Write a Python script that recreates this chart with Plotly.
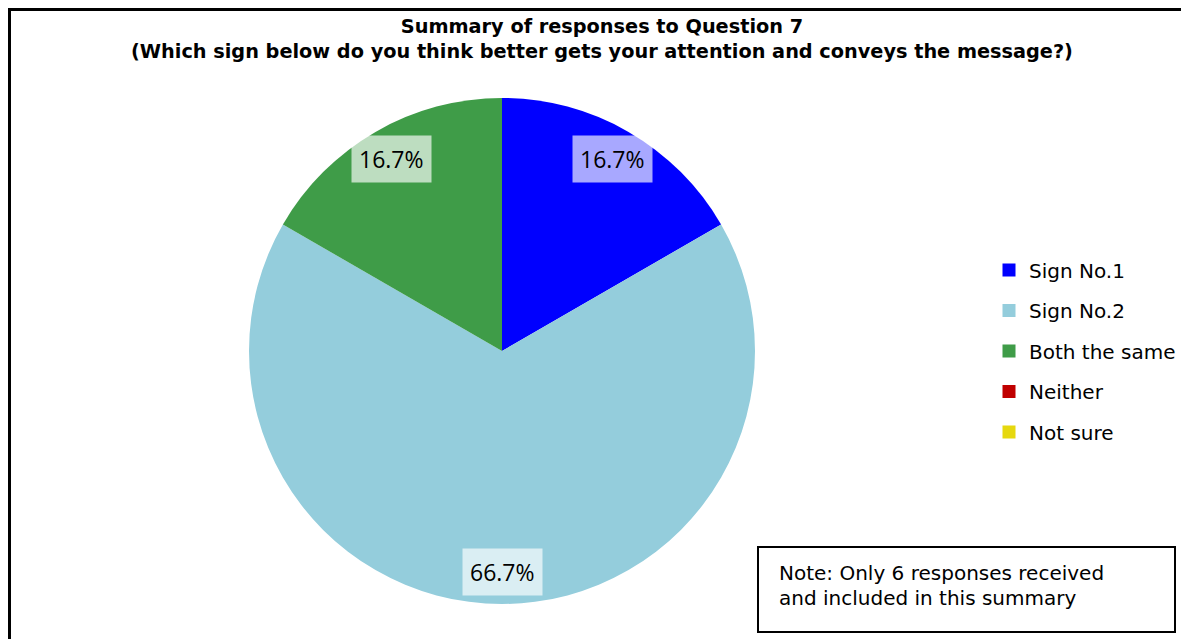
import math
import plotly.graph_objects as go

# ---- data ----
categories = ["Sign No.1", "Sign No.2", "Both the same", "Neither", "Not sure"]
responses = [1, 4, 1, 0, 0]
slice_colors = ["#0000FF", "#94CDDC", "#3F9C48", "#C00000", "#E6D80E"]
title_lines = ["Summary of responses to Question 7",
               "(Which sign below do you think better gets your attention and conveys the message?)"]
note_lines = ["Note: Only 6 responses received", "and included in this summary"]

W, H = 1189, 639
OFF = 8  # page body margin
cx, cy, R = 502 - OFF, 351 - OFF, 253


def px(x):
    return x / W


def py(y):
    return 1 - y / H


fig = go.Figure()

fig.add_trace(go.Pie(
    labels=categories,
    values=responses,
    marker=dict(colors=slice_colors, line=dict(width=0)),
    sort=False,
    direction="clockwise",
    rotation=0,
    textinfo="none",
    hoverinfo="label+percent",
    showlegend=False,
    domain=dict(x=[px(cx - R), px(cx + R)], y=[py(cy + R), py(cy - R)]),
))

# legend entries (one group each so spacing can be set)
for cat, col in zip(categories, slice_colors):
    fig.add_trace(go.Scatter(
        x=[None], y=[None], mode="markers", name=cat, legendgroup=cat,
        marker=dict(symbol="square", size=13, color=col), hoverinfo="skip",
    ))

# percentage labels with translucent boxes
total = sum(responses)
cum = 0
annotations = []
for v in responses:
    if v > 0:
        mid = math.radians((cum + v / 2) / total * 360)
        lx = cx + 0.875 * R * math.sin(mid)
        ly = cy - 0.875 * R * math.cos(mid)
        annotations.append(dict(
            x=px(lx), y=py(ly), xref="paper", yref="paper",
            xanchor="center", yanchor="middle",
            text=f"{v / total * 100:.1f}%", showarrow=False,
            font=dict(family="Open Sans, Liberation Sans, sans-serif", size=23, color="black"),
            bgcolor="rgba(255,255,255,0.66)", borderpad=7,
        ))
    cum += v

# title
annotations.append(dict(
    x=px(602 - OFF), y=py(31), xref="paper", yref="paper",
    xanchor="center", yanchor="middle",
    text="<b>" + "<br>".join(title_lines) + "</b>", showarrow=False,
    font=dict(family="DejaVu Sans, sans-serif", size=19.3, color="black"),
))

# note text
for i, line in enumerate(note_lines):
    annotations.append(dict(
        x=px(777 - OFF), y=py(573 + 25 * i - OFF), xref="paper", yref="paper",
        xanchor="left", yanchor="middle",
        text=line, showarrow=False, align="left",
        font=dict(family="DejaVu Sans, sans-serif", size=20, color="black"),
    ))

fig.update_layout(
    width=W, height=H,
    margin=dict(l=0, r=0, t=0, b=0),
    paper_bgcolor="white", plot_bgcolor="white",
    xaxis=dict(visible=False), yaxis=dict(visible=False),
    legend=dict(
        x=px(989 - OFF), y=py(351 - OFF), xanchor="left", yanchor="middle",
        font=dict(family="DejaVu Sans, sans-serif", size=20, color="black"),
        tracegroupgap=11.5, bgcolor="rgba(0,0,0,0)",
    ),
    annotations=annotations,
    shapes=[
        dict(type="rect", xref="paper", yref="paper",
             x0=px(1.5), x1=px(W + 5), y0=py(H + 5), y1=py(1.5),
             line=dict(color="black", width=3)),
        dict(type="rect", xref="paper", yref="paper",
             x0=px(758 - OFF), x1=px(1175 - OFF), y0=py(632 - OFF), y1=py(547 - OFF),
             line=dict(color="black", width=2)),
    ],
)

fig.write_html("out.html")
